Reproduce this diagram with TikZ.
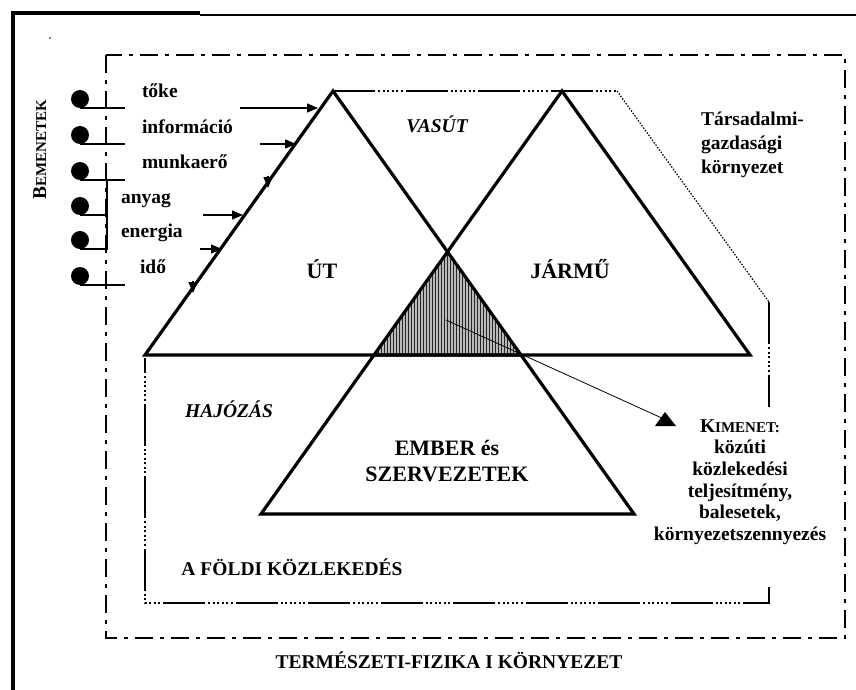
\documentclass[tikz,border=0pt]{standalone}
\usepackage{fontspec}
\setmainfont{Liberation Serif}
\usetikzlibrary{patterns.meta,arrows.meta}
\newcommand\mysc[1]{{\fontsize{15}{15}\selectfont #1}}
\begin{document}
\begin{tikzpicture}[x=1pt,y=-1pt,
  every node/.style={inner sep=0pt, outer sep=0pt},
  txt/.style={font=\bfseries\fontsize{19.5}{22}\selectfont},
  big/.style={font=\bfseries\fontsize{22}{24}\selectfont},
  ital/.style={font=\bfseries\itshape\fontsize{19.5}{22}\selectfont},
  edgeline/.style={line width=3.2pt, line join=miter},
  envline/.style={line width=2.5pt, dash pattern=on 18pt off 7pt on 4pt off 7pt},
  landline/.style={line width=2.5pt, dash pattern=on 42pt off 3pt on 2pt off 2.5pt on 2pt off 2.5pt on 2pt off 2.5pt on 2pt off 2.5pt on 2pt off 2.5pt on 2pt off 3pt},
  dotline/.style={line width=1.2pt, dash pattern=on 1.5pt off 1.5pt},
  inarrow/.style={line width=1.3pt, -{Triangle[length=11pt,width=9pt]}},
  bulletdot/.style={circle, fill=black, minimum size=18pt},
  tickline/.style={line width=1.3pt},
]
\useasboundingbox (0,0) rectangle (856,690);
% outer frame (only left and top visible)
\draw[line width=4.5pt] (13,690) -- (13,13) -- (200,13);
\draw[line width=2.2pt] (200,15) -- (856,15);
\fill (50,38) circle (0.8pt);
% environment rectangle
\draw[envline] (106,55) rectangle (845,638);
% key points
\coordinate (A) at (333,91);
\coordinate (B) at (145,355);
\coordinate (C) at (521,355);
\coordinate (D) at (562,91);
\coordinate (E) at (374,355);
\coordinate (F) at (750,355);
\coordinate (X) at (447.5,252);
\coordinate (G) at (261,514);
\coordinate (H) at (634,514);
% hatched common region
\fill[gray!55] (X) -- (E) -- (C) -- cycle;
\fill[pattern={Lines[angle=90,distance=3pt,line width=1pt]}, pattern color=black!85] (X) -- (E) -- (C) -- cycle;
% land transport boundary
\draw[landline] (A) -- (617,91);
\draw[dotline] (617,91) -- (769,302);
\draw[landline] (769,302) -- (769,407);
\draw[landline] (769,587) -- (769,603) -- (145,603) -- (145,358);
% triangles
\draw[edgeline] (B) -- (A) -- (C) -- cycle;
\draw[edgeline] (E) -- (D) -- (F) -- cycle;
\draw[edgeline] (E) -- (G) -- (H) -- (C);
% output arrow
\coordinate (hc) at (446,320);
\coordinate (outp) at (664,419);
\draw[line width=0.8pt] (hc) -- (outp);
\fill (655,426) -- (676,426) -- (665,412) -- cycle;
% inputs
\node[bulletdot] (b1) at (80,99) {};
\node[bulletdot] (b2) at (80,135) {};
\node[bulletdot] (b3) at (80,171) {};
\node[bulletdot] (b4) at (80,206) {};
\node[bulletdot] (b5) at (80,240) {};
\node[bulletdot] (b6) at (80,276) {};
\draw[tickline] (b1.south) -- ++(45,0);
\draw[tickline] (b2.south) -- ++(45,0);
\draw[tickline] (b3.south) -- ++(45,0);
\draw[tickline] (b4.south) -- ++(27,0);
\draw[tickline] (b5.south) -- ++(27,0) -- (107,180);
\draw[tickline] (b6.south) -- ++(45,0);
\node[txt, anchor=base west] (l1) at (142,98) {tőke};
\node[txt, anchor=base west] (l2) at (142,133) {információ};
\node[txt, anchor=base west] (l3) at (142,168) {munkaerő};
\node[txt, anchor=base west] (l4) at (121,203) {anyag};
\node[txt, anchor=base west] (l5) at (121,237) {energia};
\node[txt, anchor=base west] (l6) at (140,273) {idő};
\coordinate (a1s) at (240,108); \coordinate (a1e) at (318,108);
\coordinate (a2s) at (260,144); \coordinate (a2e) at (296,144);
\coordinate (a3s) at (268,176); \coordinate (a3e) at (268,188);
\coordinate (a4s) at (203,215); \coordinate (a4e) at (243,215);
\coordinate (a5s) at (200,249); \coordinate (a5e) at (222,249);
\coordinate (a6s) at (193,281); \coordinate (a6e) at (193,293);
\draw[inarrow] (a1s) -- (a1e);
\draw[inarrow] (a2s) -- (a2e);
\draw[inarrow] (a3s) -- (a3e);
\draw[inarrow] (a4s) -- (a4e);
\draw[inarrow] (a5s) -- (a5e);
\draw[inarrow] (a6s) -- (a6e);
\node[txt, rotate=90, anchor=base] (bem) at (46,150) {B\mysc{EMENETEK}};
% labels
\node[ital, anchor=base] (vasut) at (437,132) {VASÚT};
\node[big, anchor=base] (ut) at (322,278) {ÚT};
\node[big, anchor=base] (jarmu) at (570,278) {JÁRMŰ};
\node[ital, anchor=base] (hajo) at (229,417) {HAJÓZÁS};
\node[big, anchor=base] (emb1) at (447,455) {EMBER és};
\node[big, anchor=base] (emb2) at (447,481) {SZERVEZETEK};
\node[txt, anchor=base west] (ts1) at (701,125) {Társadalmi-};
\node[txt, anchor=base west] (ts2) at (701,149) {gazdasági};
\node[txt, anchor=base west] (ts3) at (701,173) {környezet};
\node[txt, anchor=base] (k1) at (740,432) {K\mysc{IMENET:}};
\node[txt, anchor=base] (k2) at (740,453.5) {közúti};
\node[txt, anchor=base] (k3) at (740,475) {közlekedési};
\node[txt, anchor=base] (k4) at (740,497) {teljesítmény,};
\node[txt, anchor=base] (k5) at (740,518.5) {balesetek,};
\node[txt, anchor=base] (k6) at (740,540) {környezetszennyezés};
\node[txt, anchor=base] (fold) at (292,575) {A FÖLDI KÖZLEKEDÉS};
\node[txt, anchor=base] (term) at (449,668) {TERMÉSZETI-FIZIKA I KÖRNYEZET};
\end{tikzpicture}
\end{document}
